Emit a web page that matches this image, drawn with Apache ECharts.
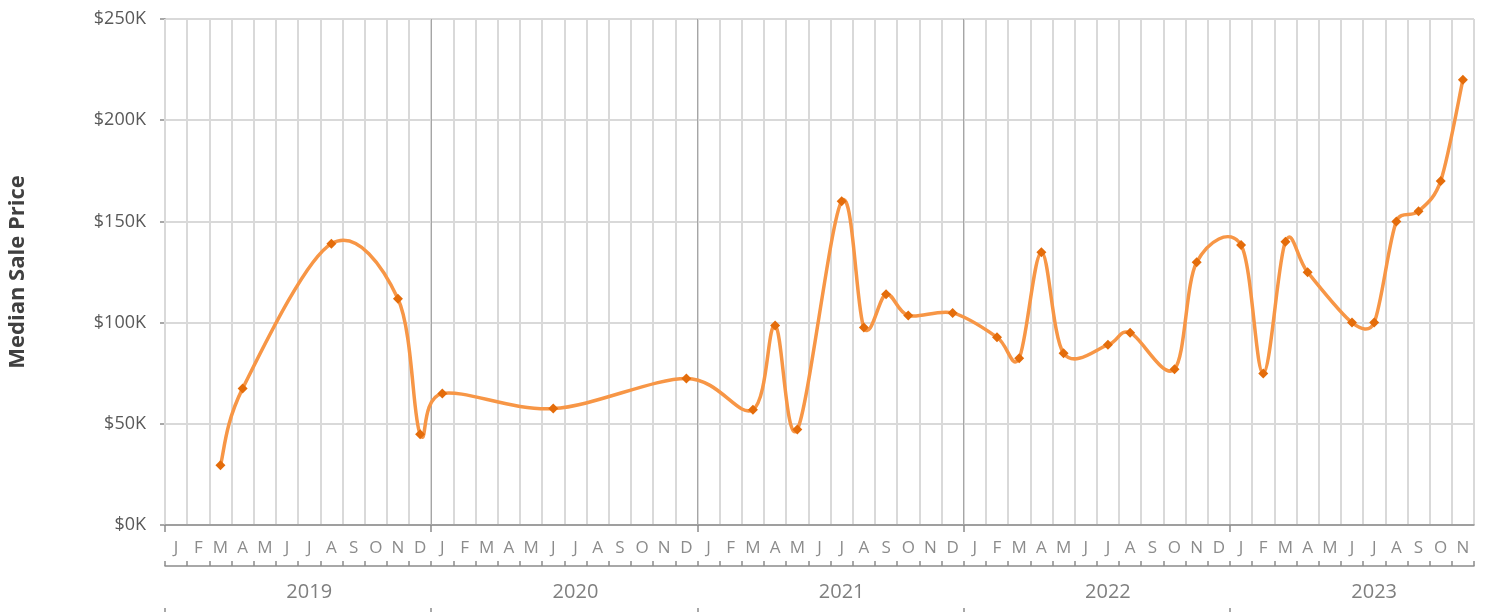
<!DOCTYPE html>
<html>
<head>
<meta charset="utf-8">
<script src="https://cdn.jsdelivr.net/npm/echarts@6/dist/echarts.min.js"></script>
<style>
html,body{margin:0;padding:0;background:#fff;}
#chart{width:1488px;height:612px;}
</style>
</head>
<body>
<div id="chart"></div>
<script>
// ---- data ----
const years = ['2019', '2020', '2021', '2022', '2023'];
const monthLetters = ['J', 'F', 'M', 'A', 'M', 'J', 'J', 'A', 'S', 'O', 'N', 'D'];
const monthsInLastYear = 11;
// median sale price per month (null = no sale that month)
const prices2019 = [null, null, 29500, 67500, null, null, null, 139000, null, null, 111800, 44800];
const prices2020 = [65000, null, null, null, null, 57500, null, null, null, null, null, 72400];
const prices2021 = [null, null, 57000, 98600, 47200, null, 160000, 97600, 114000, 103500, null, 104800];
const prices2022 = [null, 92800, 82400, 134800, 84900, null, 89000, 95000, null, 77000, 129800, null];
const prices2023 = [138300, 74800, 140000, 124900, null, 100000, 100000, 150000, 155000, 170000, 220000];
const yTicks = [0, 50000, 100000, 150000, 200000, 250000];

// ---- build categories ----
const monthCats = [];
const catKeys = [];
years.forEach((y, yi) => {
  const n = yi === years.length - 1 ? monthsInLastYear : 12;
  for (let m = 0; m < n; m++) {
    monthCats.push(monthLetters[m]);
    catKeys.push(y + '-' + (m + 1));
  }
});
const prices = [].concat(prices2019, prices2020, prices2021, prices2022, prices2023);
const nCats = monthCats.length;
const yearStarts = years.map((y, i) => i * 12);

// points with a value, and smoothed segments between consecutive points
const pts = [];
prices.forEach((v, i) => { if (v != null) pts.push([i, v]); });
const segments = [];
for (let k = 0; k < pts.length - 1; k++) {
  const p0 = pts[Math.max(k - 1, 0)], p1 = pts[k], p2 = pts[k + 1], p3 = pts[Math.min(k + 2, pts.length - 1)];
  segments.push([p0[0], p0[1], p1[0], p1[1], p2[0], p2[1], p3[0], p3[1]]);
}

const FONT = 'Open Sans';
const LINE_COLOR = '#F79646';
const MARK_COLOR = '#E46C0A';

function renderSegment(params, api) {
  const P = [0, 1, 2, 3].map(k => api.coord([api.value(2 * k), api.value(2 * k + 1)]));
  const [p0, p1, p2, p3] = P;
  const d = (a, b) => Math.hypot(b[0] - a[0], b[1] - a[1]);
  const d12 = d(p1, p2), d02 = d(p0, p2), d13 = d(p1, p3);
  let f1 = 1 / 6, f2 = 1 / 6;
  if (d02 / 6 > d12 / 2 && d02 > 0) f1 = d12 / d02 / 2;
  if (d13 / 6 > d12 / 2 && d13 > 0) f2 = d12 / d13 / 2;
  const cp1 = [p1[0] + (p2[0] - p0[0]) * f1, p1[1] + (p2[1] - p0[1]) * f1];
  const cp2 = [p2[0] - (p3[0] - p1[0]) * f2, p2[1] - (p3[1] - p1[1]) * f2];
  return {
    type: 'bezierCurve',
    shape: { x1: p1[0], y1: p1[1], x2: p2[0], y2: p2[1], cpx1: cp1[0], cpy1: cp1[1], cpx2: cp2[0], cpy2: cp2[1] },
    style: { fill: 'none', stroke: LINE_COLOR, lineWidth: 3.5, lineCap: 'round' }
  };
}

const chart = echarts.init(document.getElementById('chart'));
chart.setOption({
  animation: false,
  textStyle: { fontFamily: FONT },
  grid: { left: 165, right: 14, top: 19, bottom: 87, containLabel: false, outerBoundsMode: 'none' },
  xAxis: [
    {
      type: 'category',
      data: monthCats,
      position: 'bottom',
      boundaryGap: true,
      axisLine: { show: true, lineStyle: { color: '#8c8c8c', width: 1.5 } },
      axisTick: { show: false },
      axisLabel: { interval: 0, color: '#8c8c8c', fontSize: 17, margin: 15, fontFamily: FONT },
      splitLine: { show: true, interval: 0, lineStyle: { color: '#d9d9d9', width: 2 } },
      z: 3
    },
    {
      type: 'category',
      data: catKeys,
      position: 'bottom',
      offset: 41,
      boundaryGap: true,
      axisLine: { show: true, lineStyle: { color: '#8c8c8c', width: 1.5 } },
      axisTick: { show: true, inside: true, length: 5, interval: 0, lineStyle: { color: '#8c8c8c', width: 1.5 } },
      axisLabel: {
        interval: (idx) => idx % 12 === 6,
        formatter: (v) => v.split('-')[0],
        color: '#7f7f7f', fontSize: 20, margin: 16, fontFamily: FONT
      },
      splitLine: { show: false }
    },
    {
      type: 'value',
      min: 0, max: nCats, interval: 12,
      position: 'bottom',
      offset: 0,
      axisLine: { show: false },
      axisTick: { show: true, length: 7, customValues: yearStarts, lineStyle: { color: '#8c8c8c', width: 1.5 } },
      axisLabel: { show: false },
      splitLine: { show: true, showMinLine: false, showMaxLine: false, lineStyle: { color: '#a6a6a6', width: 1 } },
      z: 4
    },
    {
      type: 'value',
      min: 0, max: nCats,
      position: 'bottom',
      offset: 83,
      axisLine: { show: false },
      axisTick: { show: true, length: 8, customValues: yearStarts, lineStyle: { color: '#8c8c8c', width: 1.5 } },
      axisLabel: { show: false },
      splitLine: { show: false }
    }
  ],
  yAxis: {
    type: 'value',
    min: 0, max: 250000, interval: 50000,
    name: 'Median Sale Price',
    nameLocation: 'middle',
    nameRotate: 90,
    nameGap: 136,
    nameTextStyle: { fontSize: 22, fontWeight: 'bold', color: '#404040', fontFamily: FONT },
    axisLine: { show: true, lineStyle: { color: '#8c8c8c', width: 1.5 } },
    axisTick: { show: true, length: 5, lineStyle: { color: '#8c8c8c', width: 1.5 } },
    axisLabel: {
      formatter: (v) => '$' + (v / 1000) + 'K',
      color: '#595959', fontSize: 18, margin: 19, fontFamily: FONT,
      customValues: yTicks
    },
    splitLine: { show: true, lineStyle: { color: '#d9d9d9', width: 2 } }
  },
  series: [
    {
      type: 'custom',
      coordinateSystem: 'cartesian2d',
      xAxisIndex: 0,
      yAxisIndex: 0,
      data: segments,
      encode: { x: [0, 2, 4, 6], y: [1, 3, 5, 7] },
      renderItem: renderSegment,
      silent: true,
      z: 5
    },
    {
      type: 'scatter',
      xAxisIndex: 0,
      yAxisIndex: 0,
      data: pts,
      symbol: 'diamond',
      symbolSize: 10,
      itemStyle: { color: MARK_COLOR, opacity: 1 },
      z: 6
    }
  ]
});
</script>
</body>
</html>
